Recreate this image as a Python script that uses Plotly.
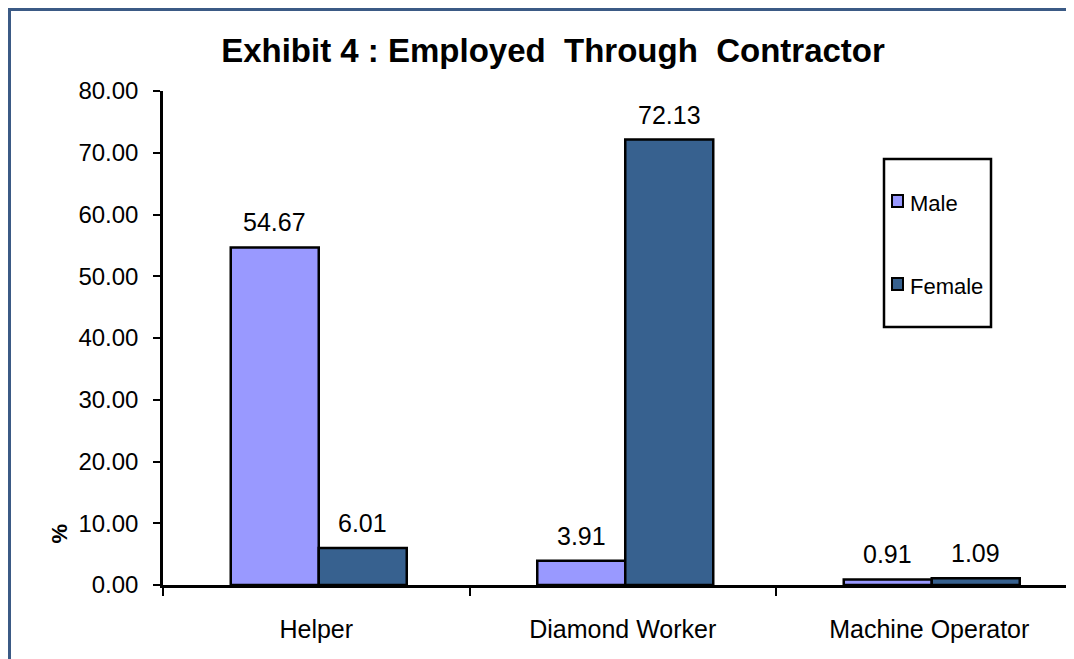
import plotly.graph_objects as go

categories = ["Helper", "Diamond Worker", "Machine Operator"]
male = [54.67, 3.91, 0.91]
female = [6.01, 72.13, 1.09]
series_names = ["Male", "Female"]
series_colors = ["#9999FF", "#37618F"]
title = "Exhibit 4 : Employed  Through  Contractor"

# page body has an 8px margin; coordinates below are figure coordinates
W, H = 1074, 659
L, R, T, B = 155, 8, 83, 82
pw = W - L - R
ph = H - T - B

font = "Liberation Sans, Arial, sans-serif"


def px_x(x):
    return (x - L) / pw


def px_y(y):
    return (T + ph - y) / ph


cat_px = 306.5
xmax = -0.5 + pw / cat_px
bar_px = 88
bar_w = bar_px / cat_px
shift = 2.5 / cat_px

fig = go.Figure()
for name, vals, col, off in zip(series_names, [male, female], series_colors,
                                [-bar_w + shift, shift]):
    fig.add_trace(go.Bar(
        x=categories, y=vals, name=name, width=bar_w, offset=off,
        marker=dict(color=col, line=dict(color="black", width=2.5)),
        showlegend=False,
    ))

# value labels above bars
for vals, sgn in [(male, -1), (female, 1)]:
    for c, v in zip(categories, vals):
        fig.add_annotation(x=c, y=v, text=f"{v:.2f}", showarrow=False,
                           xshift=sgn * bar_px / 2 + 2.5, yshift=9, yanchor="bottom",
                           font=dict(size=25, family=font, color="black"))

fig.update_layout(
    width=W, height=H,
    margin=dict(l=L, r=R, t=T, b=B),
    paper_bgcolor="white", plot_bgcolor="white",
    font=dict(family=font, size=24, color="black"),
    barmode="overlay",
    title=dict(text=title, x=545 / W, xanchor="center", y=1 - 42 / H, yanchor="middle",
               yref="container", xref="container",
               font=dict(size=33, family=font, color="black", weight="bold")),
    showlegend=False,
    xaxis=dict(range=[-0.5, xmax], showline=True, linecolor="black", linewidth=2.5,
               ticks="outside", tickson="boundaries", ticklen=8, tickwidth=2, tickcolor="black",
               ticklabelstandoff=20, showgrid=False, zeroline=False,
               tickfont=dict(size=25, family=font, color="black")),
    yaxis=dict(range=[0, 80], dtick=10, tickformat=".2f", showline=True, linecolor="black",
               linewidth=2.5, ticks="outside", ticklen=7, tickwidth=2, tickcolor="black",
               showgrid=False, zeroline=False, ticklabelstandoff=10,
               tickfont=dict(size=24, family=font, color="black")),
)

# outer chart border (extends beyond right/bottom edges)
fig.add_shape(type="rect", xref="paper", yref="paper",
              x0=px_x(1.5), x1=px_x(W + 20), y0=px_y(H + 20), y1=px_y(1.5),
              line=dict(color="#3B5A85", width=3), fillcolor="rgba(0,0,0,0)", layer="below")

# legend box drawn manually
fig.add_shape(type="rect", xref="paper", yref="paper",
              x0=px_x(876), x1=px_x(983), y0=px_y(319), y1=px_y(151),
              line=dict(color="black", width=2.5), fillcolor="white")
for name, col, yc in zip(series_names, series_colors, [193, 276]):
    fig.add_shape(type="rect", xref="paper", yref="paper",
                  x0=px_x(884), x1=px_x(895), y0=px_y(yc + 6), y1=px_y(yc - 6),
                  line=dict(color="black", width=2), fillcolor=col)
    fig.add_annotation(text=name, xref="paper", yref="paper", x=px_x(900), y=px_y(yc + 2),
                       xanchor="left", yanchor="middle", showarrow=False,
                       font=dict(size=22, family=font, color="black"))

# rotated axis glyph at left
fig.add_annotation(text="<b>%</b>", xref="paper", yref="paper",
                   x=px_x(36), y=px_y(538), showarrow=False,
                   textangle=-90, font=dict(size=22, color="black", family=font))

fig.write_html("out.html")
